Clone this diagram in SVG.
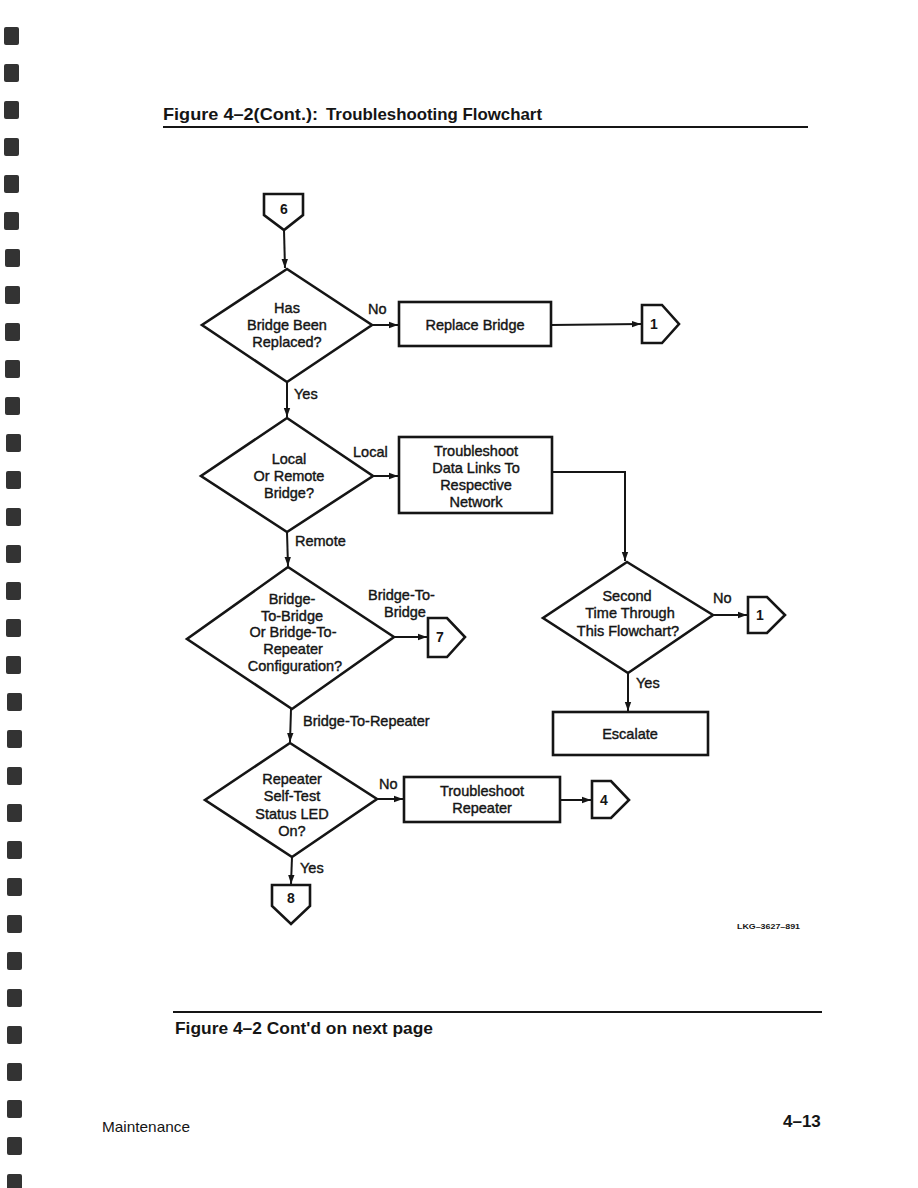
<svg xmlns="http://www.w3.org/2000/svg" width="918" height="1188" viewBox="0 0 918 1188">
<style>
.bg{fill:#ffffff}
.shape{fill:#ffffff;stroke:#151515;stroke-width:2.6;stroke-linejoin:miter}
.line{fill:none;stroke:#151515;stroke-width:2}
.t{font-family:"Liberation Sans",Arial,sans-serif;font-size:14.5px;fill:#151515;stroke:#151515;stroke-width:0.4;text-anchor:middle}
.lbl{font-family:"Liberation Sans",Arial,sans-serif;font-size:14.5px;fill:#151515;stroke:#151515;stroke-width:0.4}
.num{font-family:"Liberation Sans",Arial,sans-serif;font-size:14px;font-weight:bold;fill:#151515;text-anchor:middle}
.head{font-family:"Liberation Sans",Arial,sans-serif;font-size:17px;font-weight:bold;fill:#151515}
.rule{stroke:#151515;stroke-width:2.2}
.mk{fill:#333333}
</style>
<defs>
<marker id="arr" markerUnits="userSpaceOnUse" markerWidth="10" markerHeight="8" refX="9" refY="4" orient="auto">
<path d="M0,0.8 L9,4 L0,7.2 Z" fill="#151515"/>
</marker>
</defs>
<rect class="bg" x="0" y="0" width="918" height="1188"/>

<g id="margin-marks">
<rect class="mk" x="4" y="27" width="15" height="18" rx="2"/>
<rect class="mk" x="4" y="64" width="15" height="18" rx="2"/>
<rect class="mk" x="4" y="101" width="15" height="18" rx="2"/>
<rect class="mk" x="4" y="138" width="15" height="18" rx="2"/>
<rect class="mk" x="4" y="175" width="15" height="18" rx="2"/>
<rect class="mk" x="4" y="212" width="15" height="18" rx="2"/>
<rect class="mk" x="5" y="249" width="15" height="18" rx="2"/>
<rect class="mk" x="5" y="286" width="15" height="18" rx="2"/>
<rect class="mk" x="5" y="323" width="15" height="18" rx="2"/>
<rect class="mk" x="5" y="360" width="15" height="18" rx="2"/>
<rect class="mk" x="5" y="397" width="15" height="18" rx="2"/>
<rect class="mk" x="6" y="434" width="15" height="18" rx="2"/>
<rect class="mk" x="6" y="471" width="15" height="18" rx="2"/>
<rect class="mk" x="6" y="508" width="15" height="18" rx="2"/>
<rect class="mk" x="6" y="545" width="15" height="18" rx="2"/>
<rect class="mk" x="6" y="582" width="15" height="18" rx="2"/>
<rect class="mk" x="6" y="619" width="15" height="18" rx="2"/>
<rect class="mk" x="6" y="656" width="15" height="18" rx="2"/>
<rect class="mk" x="7" y="693" width="15" height="18" rx="2"/>
<rect class="mk" x="7" y="730" width="15" height="18" rx="2"/>
<rect class="mk" x="7" y="767" width="15" height="18" rx="2"/>
<rect class="mk" x="7" y="804" width="15" height="18" rx="2"/>
<rect class="mk" x="7" y="841" width="15" height="18" rx="2"/>
<rect class="mk" x="7" y="878" width="15" height="18" rx="2"/>
<rect class="mk" x="7" y="915" width="15" height="18" rx="2"/>
<rect class="mk" x="7" y="952" width="15" height="18" rx="2"/>
<rect class="mk" x="7" y="989" width="15" height="18" rx="2"/>
<rect class="mk" x="7" y="1026" width="15" height="18" rx="2"/>
<rect class="mk" x="7" y="1063" width="15" height="18" rx="2"/>
<rect class="mk" x="7" y="1100" width="15" height="18" rx="2"/>
<rect class="mk" x="7" y="1137" width="15" height="18" rx="2"/>
<rect class="mk" x="7" y="1174" width="15" height="18" rx="2"/>
</g>

<g id="header">
<text class="head" x="163" y="120" textLength="155" lengthAdjust="spacingAndGlyphs">Figure 4–2(Cont.):</text>
<text class="head" x="326" y="120" textLength="216" lengthAdjust="spacingAndGlyphs">Troubleshooting Flowchart</text>
<line class="rule" x1="163" y1="127" x2="808" y2="127"/>
</g>

<g id="connectors">
<line class="line" x1="284" y1="230" x2="285" y2="268" marker-end="url(#arr)"/>
<line class="line" x1="372" y1="325" x2="398" y2="325" marker-end="url(#arr)"/>
<line class="line" x1="551" y1="325" x2="641" y2="324" marker-end="url(#arr)"/>
<line class="line" x1="287" y1="382" x2="287" y2="417" marker-end="url(#arr)"/>
<line class="line" x1="374" y1="476" x2="398" y2="476" marker-end="url(#arr)"/>
<polyline class="line" points="552,472 625,472 625,561" marker-end="url(#arr)"/>
<line class="line" x1="287" y1="532" x2="288" y2="566" marker-end="url(#arr)"/>
<line class="line" x1="394" y1="637" x2="427" y2="637" marker-end="url(#arr)"/>
<line class="line" x1="713" y1="615" x2="747" y2="615" marker-end="url(#arr)"/>
<line class="line" x1="628" y1="673" x2="628" y2="711" marker-end="url(#arr)"/>
<line class="line" x1="291" y1="709" x2="290" y2="742" marker-end="url(#arr)"/>
<line class="line" x1="377" y1="799" x2="403" y2="799" marker-end="url(#arr)"/>
<line class="line" x1="560" y1="800" x2="591" y2="800" marker-end="url(#arr)"/>
<line class="line" x1="292" y1="857" x2="291" y2="884" marker-end="url(#arr)"/>
<text class="lbl" x="368" y="314">No</text>
<text class="lbl" x="294" y="399">Yes</text>
<text class="lbl" x="353" y="457">Local</text>
<text class="lbl" x="295" y="546">Remote</text>
<text class="lbl" x="368" y="600">Bridge-To-</text>
<text class="lbl" x="384" y="617">Bridge</text>
<text class="lbl" x="303" y="726">Bridge-To-Repeater</text>
<text class="lbl" x="713" y="603">No</text>
<text class="lbl" x="636" y="688">Yes</text>
<text class="lbl" x="379" y="789">No</text>
<text class="lbl" x="300" y="873">Yes</text>
</g>

<g id="conn6">
<path class="shape" d="M264,194 H303 V215 L284,230 L264,215 Z"/>
<text class="num" x="284" y="214">6</text>
</g>

<g id="d-replaced">
<polygon class="shape" points="287,269 372,325 287,382 202,325"/>
<text class="t" x="287" y="313">Has</text>
<text class="t" x="287" y="330">Bridge Been</text>
<text class="t" x="287" y="347">Replaced?</text>
</g>

<g id="r-replace">
<rect class="shape" x="399" y="302" width="152" height="44"/>
<text class="t" x="475" y="330">Replace Bridge</text>
</g>

<g id="conn1a">
<path class="shape" d="M642,305 H662 L679,324 L662,343 H642 Z"/>
<text class="num" x="654" y="329">1</text>
</g>

<g id="d-local">
<polygon class="shape" points="287,418 373,476 287,532 201,476"/>
<text class="t" x="289" y="464">Local</text>
<text class="t" x="289" y="481">Or Remote</text>
<text class="t" x="289" y="498">Bridge?</text>
</g>

<g id="r-datalinks">
<rect class="shape" x="399" y="437" width="153" height="76"/>
<text class="t" x="476" y="456">Troubleshoot</text>
<text class="t" x="476" y="473">Data Links To</text>
<text class="t" x="476" y="490">Respective</text>
<text class="t" x="476" y="507">Network</text>
</g>

<g id="d-config">
<polygon class="shape" points="288,567 394,637 292,709 187,639"/>
<text class="t" x="292" y="604">Bridge-</text>
<text class="t" x="292" y="621">To-Bridge</text>
<text class="t" x="293" y="637">Or Bridge-To-</text>
<text class="t" x="293" y="654">Repeater</text>
<text class="t" x="295" y="671">Configuration?</text>
</g>

<g id="conn7">
<path class="shape" d="M428,618 H447 L465,637 L447,657 H428 Z"/>
<text class="num" x="440" y="642">7</text>
</g>

<g id="d-second">
<polygon class="shape" points="627,562 713,615 628,673 543,618"/>
<text class="t" x="627" y="601">Second</text>
<text class="t" x="630" y="618">Time Through</text>
<text class="t" x="628" y="636">This Flowchart?</text>
</g>

<g id="conn1b">
<path class="shape" d="M748,597 H767 L785,615 L767,633 H748 Z"/>
<text class="num" x="760" y="620">1</text>
</g>

<g id="r-escalate">
<rect class="shape" x="553" y="712" width="155" height="43"/>
<text class="t" x="630" y="739">Escalate</text>
</g>

<g id="d-selftest">
<polygon class="shape" points="290,743 377,799 292,857 205,800"/>
<text class="t" x="292" y="784">Repeater</text>
<text class="t" x="292" y="801">Self-Test</text>
<text class="t" x="292" y="819">Status LED</text>
<text class="t" x="292" y="836">On?</text>
</g>

<g id="r-repeater">
<rect class="shape" x="404" y="777" width="156" height="45"/>
<text class="t" x="482" y="796">Troubleshoot</text>
<text class="t" x="482" y="813">Repeater</text>
</g>

<g id="conn4">
<path class="shape" d="M592,781 H611 L629,800 L611,818 H592 Z"/>
<text class="num" x="604" y="805">4</text>
</g>

<g id="conn8">
<path class="shape" d="M272,885 H310 V906 L291,924 L272,906 Z"/>
<text class="num" x="291" y="903">8</text>
</g>

<g id="footer">
<text x="737" y="929" style="font-family:'Liberation Sans',Arial,sans-serif;font-size:8px;font-weight:bold;fill:#151515" textLength="63" lengthAdjust="spacingAndGlyphs">LKG–3627–891</text>
<line class="rule" x1="173" y1="1012" x2="822" y2="1012"/>
<text class="head" x="175" y="1034" textLength="258" lengthAdjust="spacingAndGlyphs">Figure 4–2 Cont'd on next page</text>
<text x="102" y="1132" style="font-family:'Liberation Sans',Arial,sans-serif;font-size:15px;fill:#151515" textLength="88" lengthAdjust="spacingAndGlyphs">Maintenance</text>
<text x="783" y="1127" style="font-family:'Liberation Sans',Arial,sans-serif;font-size:17px;font-weight:bold;fill:#151515">4–13</text>
</g>
</svg>
